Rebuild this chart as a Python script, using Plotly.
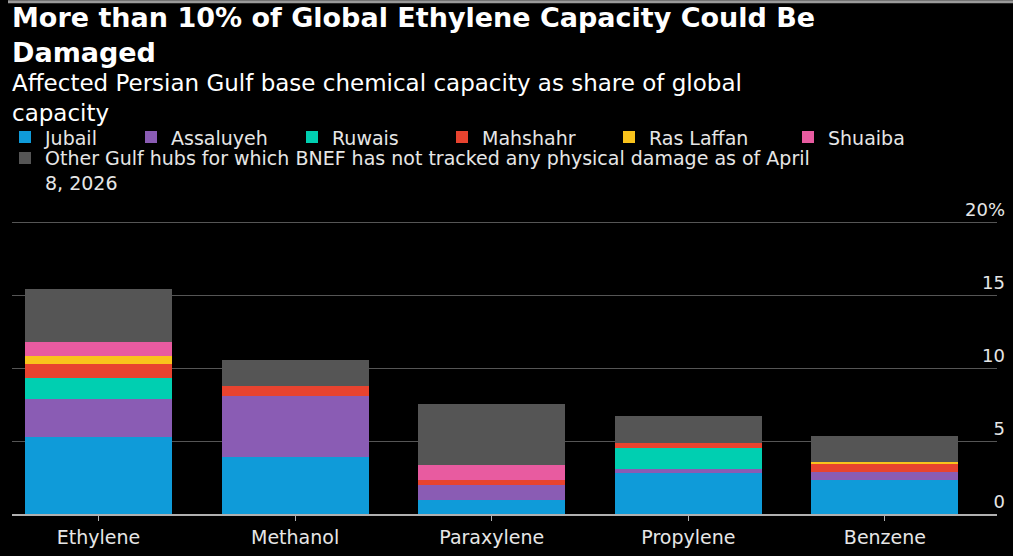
import plotly.graph_objects as go

categories = ["Ethylene", "Methanol", "Paraxylene", "Propylene", "Benzene"]
jubail = [5.25, 3.93, 0.94, 2.83, 2.33]
assaluyeh = [2.6, 4.17, 1.07, 0.23, 0.57]
ruwais = [1.5, 0, 0, 1.48, 0]
mahshahr = [0.9, 0.67, 0.33, 0.35, 0.52]
ras_laffan = [0.6, 0, 0, 0, 0.14]
shuaiba = [0.95, 0, 1.0, 0, 0]
other = [3.65, 1.78, 4.2, 1.84, 1.78]

series_names = ["Jubail", "Assaluyeh", "Ruwais", "Mahshahr", "Ras Laffan", "Shuaiba",
                "Other Gulf hubs for which BNEF has not tracked any physical damage as of April<br>8, 2026"]
series_values = [jubail, assaluyeh, ruwais, mahshahr, ras_laffan, shuaiba, other]
colors = ["#0f9bd9", "#8a5cb4", "#00cfb1", "#e8432f", "#f9c31c", "#e85ba0", "#555555"]
legend_ids = ["legend", "legend", "legend", "legend", "legend", "legend", "legend2"]
legend_widths = [81, 116, 105, 122, 134, 100, None]

tick_vals = [0, 5, 10, 15, 20]
tick_text = ["0", "5", "10", "15", "20%"]

title_text = "More than 10% of Global Ethylene Capacity Could Be<br>Damaged"
subtitle_text = "Affected Persian Gulf base chemical capacity as share of global<br>capacity"

W, H = 1013, 556
Y_TOP = 22.0
PX_PER_UNIT = 14.6
BASE = 514
B = H - BASE
T = BASE - Y_TOP * PX_PER_UNIT
PH = H - T - B


def py(p):
    return (H - B - p) / PH


def px(p):
    return p / W


fig = go.Figure()
for name, vals, col, lg, lw in zip(series_names, series_values, colors, legend_ids, legend_widths):
    fig.add_trace(go.Bar(x=categories, y=vals, name=name, legend=lg, legendwidth=lw,
                         marker=dict(color=col, line=dict(width=0))))

font = "DejaVu Sans"
legend_font = dict(family=font, size=19, color="#e6e6e6")
annotations = [
    dict(text="<b>" + title_text + "</b>", xref="paper", yref="paper", x=px(10), y=py(0),
         xanchor="left", yanchor="top", align="left", showarrow=False,
         font=dict(family=font, size=27, color="#ffffff")),
    dict(text=subtitle_text, xref="paper", yref="paper", x=px(10), y=py(68),
         xanchor="left", yanchor="top", align="left", showarrow=False,
         font=dict(family=font, size=23, color="#ffffff")),
]

fig.update_layout(
    width=W, height=H,
    margin=dict(l=0, r=0, t=T, b=B),
    paper_bgcolor="#000000", plot_bgcolor="#000000",
    barmode="stack", bargap=0.252,
    showlegend=True,
    legend=dict(orientation="h", x=px(5), xanchor="left", y=py(137), yanchor="middle",
                traceorder="normal", font=legend_font, bgcolor="rgba(0,0,0,0)", valign="top"),
    legend2=dict(orientation="h", x=px(5), xanchor="left", y=py(139), yanchor="top",
                 traceorder="normal", font=legend_font, bgcolor="rgba(0,0,0,0)", valign="top"),
    xaxis=dict(type="category", domain=[12 / W, 997 / W], range=[-0.44, 4.57], showgrid=False,
               showline=True, linecolor="#b0b0b0", linewidth=2, ticks="outside", ticklen=5,
               tickcolor="#b0b0b0", tickfont=dict(family=font, size=19, color="#e6e6e6"),
               zeroline=False),
    yaxis=dict(range=[0, Y_TOP], side="right", tickvals=tick_vals, ticktext=tick_text,
               ticklabelposition="inside top", ticklabelstandoff=-11, showgrid=True,
               gridcolor="#555555", gridwidth=1, zeroline=False, showline=False, ticks="",
               tickfont=dict(family=font, size=18, color="#e6e6e6")),
    shapes=[dict(type="line", xref="paper", yref="paper", x0=px(8), x1=1, y0=py(1.5), y1=py(1.5),
                 line=dict(color="#9a9a9a", width=3), layer="above")],
    annotations=annotations,
)

fig.write_html("out.html", config={"displayModeBar": False},
               post_script="document.body.style.margin='0px';")
